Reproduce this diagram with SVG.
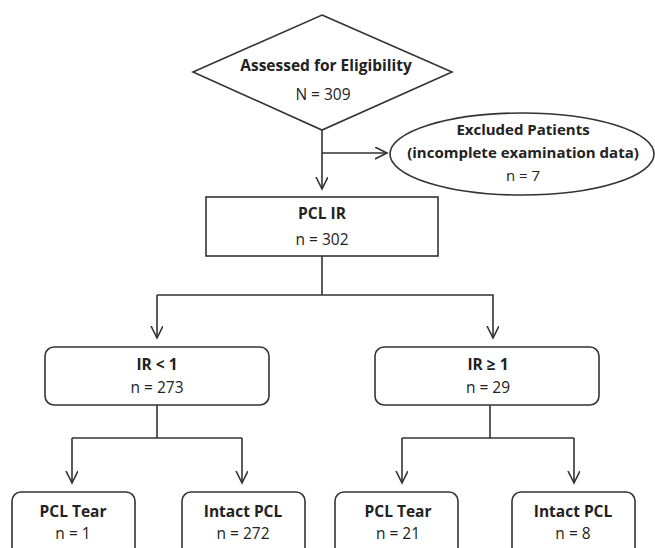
<svg xmlns="http://www.w3.org/2000/svg" width="655" height="548" viewBox="0 0 655 548">
<style>
.s{fill:#fff;stroke:#333;stroke-width:1.6}
.c{fill:none;stroke:#333;stroke-width:1.6}
text{font-family:"Open Sans","Liberation Sans",sans-serif;fill:#222;text-anchor:middle;font-size:15.5px}
.b{font-weight:bold}
.e{font-size:15px}
</style>
<defs>
<marker id="a" markerWidth="14" markerHeight="14" refX="12" refY="6" orient="auto" markerUnits="userSpaceOnUse">
<polyline points="0,0 12,6 0,12" fill="none" stroke="#333" stroke-width="1.6"/>
</marker>
</defs>
<rect width="655" height="548" fill="#fff"/>
<g id="connectors">
<line class="c" x1="322" y1="130" x2="322" y2="189" marker-end="url(#a)"/>
<line class="c" x1="322" y1="153" x2="387" y2="153" marker-end="url(#a)"/>
<polyline class="c" points="322,256 322,295"/>
<polyline class="c" points="157,295 493,295 493,338" marker-end="url(#a)"/>
<line class="c" x1="157" y1="295" x2="157" y2="338" marker-end="url(#a)"/>
<line class="c" x1="157" y1="405" x2="157" y2="438"/>
<polyline class="c" points="72,438 242,438"/>
<line class="c" x1="72" y1="438" x2="72" y2="483" marker-end="url(#a)"/>
<line class="c" x1="242" y1="438" x2="242" y2="483" marker-end="url(#a)"/>
<line class="c" x1="490" y1="405" x2="490" y2="438"/>
<polyline class="c" points="402,438 574,438"/>
<line class="c" x1="402" y1="438" x2="402" y2="483" marker-end="url(#a)"/>
<line class="c" x1="574" y1="438" x2="574" y2="483" marker-end="url(#a)"/>
</g>
<g id="assessed">
<polygon class="s" points="322,15 452,72 322,130 193,72"/>
<text class="b" x="326" y="71">Assessed for Eligibility</text>
<text x="323" y="100">N = 309</text>
</g>
<g id="excluded">
<ellipse class="s" cx="522" cy="154" rx="132" ry="41"/>
<text class="b e" x="523" y="135">Excluded Patients</text>
<text class="b e" x="523" y="158">(incomplete examination data)</text>
<text class="e" x="523" y="181">n = 7</text>
</g>
<g id="pclir">
<rect class="s" x="206" y="197" width="232" height="59"/>
<text class="b" x="322" y="219">PCL IR</text>
<text x="322" y="245">n = 302</text>
</g>
<g id="irlt1">
<rect class="s" x="45" y="347" width="224" height="58" rx="9"/>
<text class="b" x="157" y="370">IR &lt; 1</text>
<text x="157" y="393">n = 273</text>
</g>
<g id="irge1">
<rect class="s" x="375" y="347" width="224" height="58" rx="9"/>
<text class="b" x="488" y="370">IR ≥ 1</text>
<text x="488" y="393">n = 29</text>
</g>
<g id="tear1">
<rect class="s" x="12" y="492" width="123" height="70" rx="9"/>
<text class="b" x="73" y="517">PCL Tear</text>
<text x="73" y="539">n = 1</text>
</g>
<g id="intact1">
<rect class="s" x="182" y="492" width="123" height="70" rx="9"/>
<text class="b" x="243" y="517">Intact PCL</text>
<text x="243" y="539">n = 272</text>
</g>
<g id="tear2">
<rect class="s" x="335" y="492" width="123" height="70" rx="9"/>
<text class="b" x="398" y="517">PCL Tear</text>
<text x="398" y="539">n = 21</text>
</g>
<g id="intact2">
<rect class="s" x="512" y="492" width="123" height="70" rx="9"/>
<text class="b" x="573" y="517">Intact PCL</text>
<text x="573" y="539">n = 8</text>
</g>
</svg>
